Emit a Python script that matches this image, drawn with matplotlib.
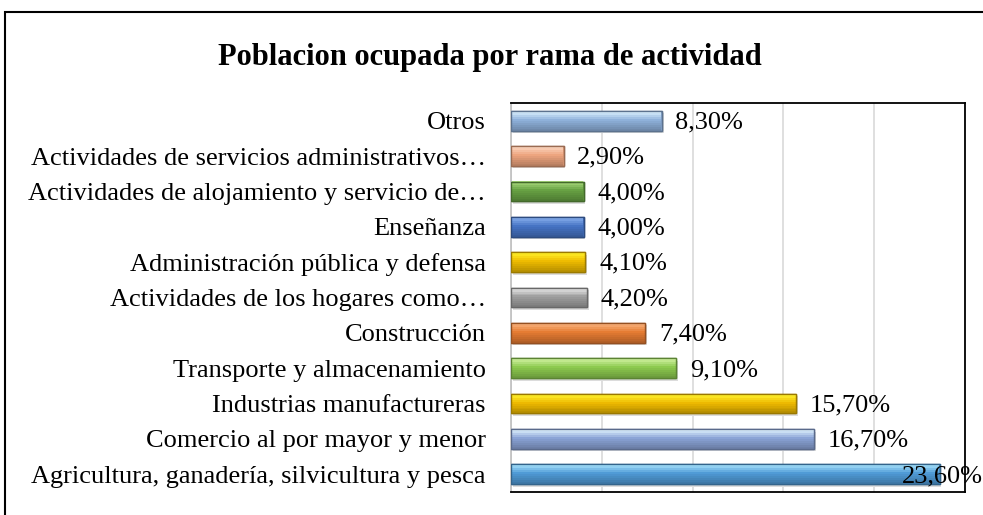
import matplotlib.pyplot as plt
from matplotlib.patches import Rectangle
from matplotlib.colors import to_rgb

plt.rcParams['font.family'] = ['Liberation Serif', 'DejaVu Serif']

# data (bottom to top)
categories = [
    'Agricultura, ganadería, silvicultura y pesca',
    'Comercio al por mayor y menor',
    'Industrias manufactureras',
    'Transporte y almacenamiento',
    'Construcción',
    'Actividades de los hogares como…',
    'Administración pública y defensa',
    'Enseñanza',
    'Actividades de alojamiento y servicio de…',
    'Actividades de servicios administrativos…',
    'Otros',
]
values = [23.6, 16.7, 15.7, 9.1, 7.4, 4.2, 4.1, 4.0, 4.0, 2.9, 8.3]
value_labels = ['23,60%', '16,70%', '15,70%', '9,10%', '7,40%', '4,20%',
                '4,10%', '4,00%', '4,00%', '2,90%', '8,30%']
bar_colors = ['#4F9AD6', '#8AA3D6', '#EDB800', '#8CC94E', '#E57B32', '#A0A0A0',
              '#EEBB00', '#4573C4', '#67A143', '#EDA47E', '#8EB0DA']
light_colors = ['#A6E2FB', '#DDF1FD', '#FFF22E', '#D2F2A2', '#F9B27C', '#E2E2E2',
                '#FFF22A', '#86AEEC', '#A9D97C', '#FBD6C0', '#D8EEFC']

def mix(c1, c2, t):
    a, b = to_rgb(c1), to_rgb(c2)
    return tuple(x + (y - x) * t for x, y in zip(a, b))

def darker(c, f=0.65):
    return tuple(x * f for x in to_rgb(c))

fig = plt.figure(figsize=(9.83, 5.15), dpi=100)
ax = fig.add_axes([0.5198, 0.0447, 0.4619, 0.7553])

y = list(range(len(categories)))
h = 0.56
# shadow
ax.barh([v - 0.07 for v in y], values, height=h, left=0.1,
        color='#dcdcdc', zorder=2)
# base bars
ax.barh(y, values, height=h, color=bar_colors,
        edgecolor=[darker(c) for c in bar_colors], linewidth=1.0, zorder=3)
# gradient bands, light at top to darker at bottom
n = 10
band = h / n
for i in range(n):
    t = i / (n - 1)
    yc = [v + h / 2 - band * (i + 0.5) for v in y]
    if t < 0.45:
        cols = [mix(l, b, t / 0.45) for l, b in zip(light_colors, bar_colors)]
    else:
        cols = [mix(b, darker(b, 0.78), (t - 0.45) / 0.55) for b in bar_colors]
    ax.barh(yc, [v - 0.06 for v in values], height=band * 1.02, left=0.03,
            color=cols, linewidth=0, zorder=4)
# redraw outline
ax.barh(y, values, height=h, color='none',
        edgecolor=[darker(c) for c in bar_colors], linewidth=1.0, zorder=5)

xmax = 25
ax.set_xlim(0, xmax)
ax.set_ylim(-0.5, len(categories) - 0.5)
for yi, v, lab in zip(y, values, value_labels):
    x = min(v + 0.75, xmax - 3.5)
    ax.text(x, yi - 0.05, lab, va='center', ha='left', fontsize=19, zorder=6)

ax.set_yticks(y)
ax.set_yticklabels(categories, fontsize=19)
ax.tick_params(axis='y', length=0, pad=18)
ax.set_xticks([0, 5, 10, 15, 20, 25])
ax.tick_params(axis='x', length=0, labelbottom=False)
ax.grid(axis='x', color='#d9d9d9', linewidth=1.2, zorder=0)
ax.set_axisbelow(True)
for s in ['top', 'right', 'bottom']:
    ax.spines[s].set_color('black')
    ax.spines[s].set_linewidth(1.3)
ax.spines['left'].set_color('#bfbfbf')
ax.spines['left'].set_linewidth(1.2)

fig.text(0.498, 0.889, 'Poblacion ocupada por rama de actividad',
         ha='center', va='center', fontsize=22, fontweight='bold')

fig.patches.append(Rectangle((0.005, -0.1), 1.2, 1.077, transform=fig.transFigure,
                             fill=False, edgecolor='black', linewidth=1.5))

fig.savefig('out.png', dpi=100)
